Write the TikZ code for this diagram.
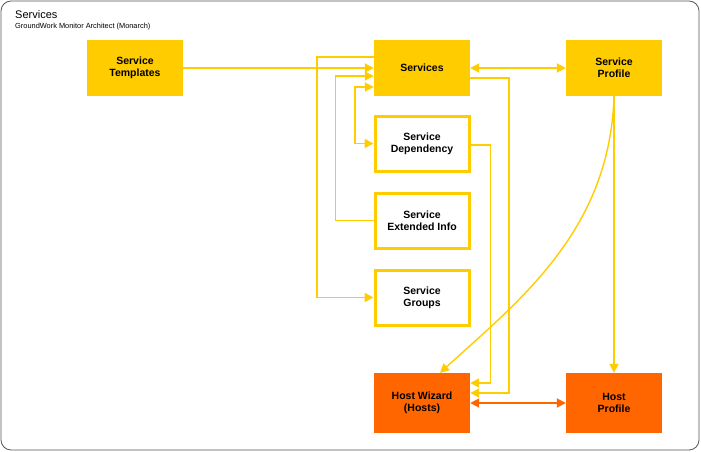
\documentclass[tikz,border=0pt]{standalone}
\usepackage{fontspec}
\setmainfont{Liberation Sans}
\usetikzlibrary{arrows.meta,calc}
\definecolor{gwyellow}{HTML}{FFCC00}
\definecolor{gworange}{HTML}{FF6600}
\definecolor{framegray}{HTML}{555555}
\tikzset{
  boxbase/.style={minimum width=96pt, minimum height=56pt, inner sep=0pt, align=center,
    font=\fontsize{10.5}{12}\selectfont\bfseries, text=black},
  yelbox/.style={boxbase, fill=gwyellow},
  whitebox/.style={boxbase, minimum width=94pt, minimum height=55pt, fill=white, draw=gwyellow, line width=3pt},
  orgbox/.style={boxbase, minimum height=60pt, fill=gworange},
  conn/.style={draw=gwyellow, line width=1.8pt},
  oconn/.style={draw=gworange, line width=1.8pt},
  tip/.tip={Triangle[length=9pt,width=9pt]},
}
\begin{document}
\begin{tikzpicture}[x=1pt,y=-1pt]
\useasboundingbox (0,0) rectangle (701,452);
\draw[framegray, line width=0.8pt, rounded corners=10pt] (1,1) rectangle (699,450);
\node[anchor=base west, inner sep=0pt, font=\fontsize{11}{13}\selectfont] (title) at (15,19) {Services};
\node[anchor=base west, inner sep=0pt, font=\fontsize{7.4}{9}\selectfont] (subtitle) at (15,29) {GroundWork Monitor Architect (Monarch)};

\node[yelbox] (tpl) at (135,68) {Service\\Templates};
\node[yelbox] (svc) at (422,68) {Services};
\node[yelbox] (sp) at (614,68) {Service\\Profile};
\node[whitebox] (dep) at (422,143.5) {Service\\Dependency};
\node[whitebox] (ext) at (422,220.5) {Service\\Extended Info};
\node[whitebox] (grp) at (422,297.5) {Service\\Groups};
\node[orgbox] (hw) at (422,403) {Host Wizard\\(Hosts)};
\node[orgbox] (hp) at (614,403) {Host\\Profile};

% connectors
\draw[conn,-tip] (tpl.east) -- (svc.west);
\draw[conn,-tip] ([yshift=11pt]svc.west) -- ++(-57pt,0) |- (grp.west);
\draw[conn,-tip] (ext.west) -- ++(-38pt,0) |- ([yshift=-8pt]svc.west);
\draw[conn,tip-tip] ([yshift=-19pt]svc.west) -- ++(-19pt,0) |- (dep.west);
\draw[conn,tip-tip] (svc.east) -- (sp.west);
\draw[conn,-tip] ([yshift=-10pt]svc.east) -- ++(39pt,0) |- ([yshift=10pt]hw.east);
\draw[conn,-tip] ([yshift=-1.5pt]dep.east) -- ++(20pt,0) |- ([yshift=20pt]hw.east);
\draw[conn,line width=1.4pt,-tip] (sp.south) .. controls (610,230) and (520,300) .. ([xshift=18pt]hw.north);
\draw[conn,-tip] (sp.south) -- (hp.north);
\draw[oconn,tip-tip] (hw.east) -- (hp.west);
\end{tikzpicture}
\end{document}
